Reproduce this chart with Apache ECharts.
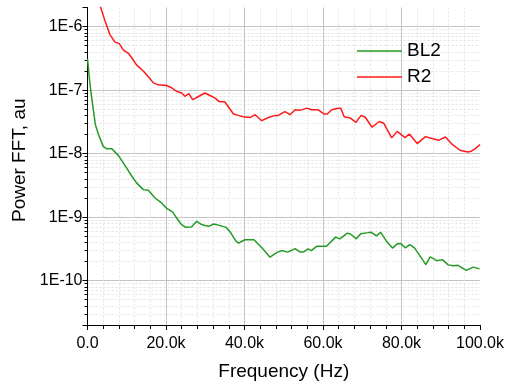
<!DOCTYPE html>
<html>
<head>
<meta charset="utf-8">
<script src="https://cdn.jsdelivr.net/npm/echarts@6/dist/echarts.min.js"></script>
<style>
html, body { margin: 0; padding: 0; background: #fff; }
#chart { width: 506px; height: 386px; }
</style>
</head>
<body>
<div id="chart"></div>
<script>
// Power spectra of the two channels; frequency in kHz, power in arbitrary units
const seriesNames = ['BL2', 'R2'];

const freqBL2 = [0, 0.6, 1.0, 2.0, 2.8, 4.0, 4.9, 6.2, 7.9, 9.7, 11.3, 12.5, 14.2, 15.5, 17.2, 18.7,
  20.0, 21.7, 22.7, 24.0, 25.0, 26.5, 27.8, 28.8, 29.9, 31.0, 32.2, 33.8, 35.3, 36.4, 37.8, 38.5,
  40.1, 42.4, 44.6, 46.5, 48.2, 49.4, 51.0, 52.9, 54.1, 55.0, 56.2, 57.0, 58.4, 60.9, 63.2, 64.3,
  66.2, 67.0, 68.5, 69.6, 71.5, 72.2, 73.6, 74.7, 76.2, 77.7, 79.0, 79.9, 81.0, 82.1, 83.3, 84.7,
  86.2, 87.3, 89.0, 90.4, 91.9, 93.2, 94.4, 96.5, 98.3, 99.9];
const powerBL2 = [3.1e-7, 1.3e-7, 8.2e-8, 2.86e-8, 2.0e-8, 1.30e-8, 1.19e-8, 1.19e-8, 9.3e-9, 6.3e-9,
  4.4e-9, 3.46e-9, 2.71e-9, 2.64e-9, 2.0e-9, 1.71e-9, 1.40e-9, 1.20e-9, 9.7e-10, 7.6e-10, 6.9e-10,
  7.0e-10, 8.6e-10, 7.8e-10, 7.4e-10, 7.2e-10, 7.8e-10, 7.35e-10, 6.9e-10, 5.8e-10, 4.2e-10, 3.9e-10,
  4.4e-10, 4.4e-10, 3.2e-10, 2.34e-10, 2.76e-10, 2.97e-10, 2.81e-10, 3.19e-10, 2.83e-10, 2.81e-10,
  3.17e-10, 2.97e-10, 3.47e-10, 3.47e-10, 4.84e-10, 4.55e-10, 5.6e-10, 5.43e-10, 4.55e-10, 5.46e-10,
  5.7e-10, 5.8e-10, 5.06e-10, 5.76e-10, 4.16e-10, 3.25e-10, 3.83e-10, 3.79e-10, 3.27e-10, 3.69e-10,
  3.27e-10, 2.45e-10, 1.79e-10, 2.36e-10, 2.06e-10, 2.14e-10, 1.77e-10, 1.72e-10, 1.74e-10, 1.45e-10,
  1.63e-10, 1.53e-10];

const freqR2 = [2.5, 3.4, 4.5, 5.7, 7.0, 8.1, 9.1, 10.4, 11.3, 12.5, 14.2, 15.5, 16.8, 18.0, 20.2,
  21.5, 22.8, 24.0, 24.8, 25.8, 26.8, 28.4, 29.9, 31.6, 32.5, 33.6, 35.0, 37.2, 38.4, 39.7, 41.4,
  42.7, 44.4, 46.1, 47.8, 48.6, 50.3, 51.6, 52.9, 54.1, 55.9, 57.1, 58.8, 60.3, 61.1, 62.2, 63.9,
  64.5, 65.4, 66.9, 68.4, 69.7, 70.8, 72.5, 74.3, 75.5, 77.5, 78.9, 80.9, 82.0, 84.0, 86.1, 88.0,
  89.4, 91.2, 92.7, 94.9, 96.9, 97.8, 98.9, 100.0];
const powerR2 = [2.9e-6, 1.97e-6, 1.21e-6, 7.5e-7, 5.7e-7, 5.4e-7, 4.3e-7, 3.8e-7, 3.2e-7, 2.5e-7,
  2.0e-7, 1.62e-7, 1.30e-7, 1.21e-7, 1.18e-7, 1.08e-7, 9.5e-8, 9.0e-8, 8.0e-8, 8.8e-8, 7.1e-8, 8.0e-8,
  9.0e-8, 8.0e-8, 7.5e-8, 6.6e-8, 6.5e-8, 4.2e-8, 4.0e-8, 3.8e-8, 3.7e-8, 4.1e-8, 3.3e-8, 3.7e-8,
  4.0e-8, 4.0e-8, 4.6e-8, 4.1e-8, 4.9e-8, 4.8e-8, 5.2e-8, 4.9e-8, 4.9e-8, 4.2e-8, 4.2e-8, 4.9e-8,
  5.2e-8, 5.2e-8, 3.8e-8, 3.65e-8, 3.1e-8, 4.0e-8, 3.7e-8, 2.6e-8, 3.2e-8, 3.0e-8, 1.77e-8, 2.24e-8,
  1.79e-8, 2.04e-8, 1.44e-8, 1.85e-8, 1.71e-8, 1.62e-8, 1.83e-8, 1.44e-8, 1.13e-8, 1.06e-8, 1.09e-8,
  1.21e-8, 1.39e-8];

const xRange = [0, 100];
const xStep = 20;
const yRange = [2e-11, 2e-6];

const FONT = '"Liberation Sans", Arial, sans-serif';
const colors = ['#259a25', '#ff1a1a'];

function pairs(xs, ys) { return xs.map((x, i) => [x, ys[i]]); }

function decadeLabel(v) {
  const e = Math.log10(v);
  const r = Math.round(e);
  return Math.abs(e - r) < 1e-6 ? '1E' + r : '';
}

const chart = echarts.init(document.getElementById('chart'), null, { renderer: 'canvas' });

chart.setOption({
  animation: false,
  backgroundColor: '#fff',
  color: colors,
  grid: { left: 87.5, right: 26, top: 7.5, bottom: 61, containLabel: false, outerBoundsMode: 'none' },
  legend: {
    orient: 'vertical',
    left: 357, top: 41.5, padding: 0,
    itemWidth: 45, itemHeight: 1.6, itemGap: 7,
    textStyle: { fontSize: 19, fontFamily: FONT, color: '#000' },
    data: seriesNames.map(n => ({ name: n, icon: 'rect' }))
  },
  xAxis: {
    type: 'value',
    min: xRange[0], max: xRange[1], interval: xStep,
    name: 'Frequency (Hz)', nameLocation: 'middle', nameGap: 37,
    nameTextStyle: { fontSize: 19, fontFamily: FONT, color: '#000' },
    axisLine: { show: true, lineStyle: { color: '#000', width: 1 } },
    axisTick: { show: true, inside: false, length: 5, lineStyle: { color: '#000' } },
    minorTick: { show: true, splitNumber: 5, length: 4, lineStyle: { color: '#000' } },
    axisLabel: {
      fontSize: 16, fontFamily: FONT, color: '#000', margin: 11,
      formatter: v => v === 0 ? '0.0' : v.toFixed(1) + 'k'
    },
    splitLine: { show: true, showMinLine: false, showMaxLine: false, lineStyle: { color: '#c4c4c4', width: 1 } },
    minorSplitLine: { show: true, lineStyle: { color: '#e2e2e2', width: 1, type: [2, 2] } }
  },
  yAxis: {
    type: 'log', logBase: 10,
    min: yRange[0], max: yRange[1],
    name: 'Power FFT, au', nameLocation: 'middle', nameGap: 58,
    nameTextStyle: { fontSize: 19, fontFamily: FONT, color: '#000', padding: [0, 0, 0, 12] },
    axisLine: { show: true, lineStyle: { color: '#000', width: 1 } },
    axisTick: { show: true, inside: false, length: 5, lineStyle: { color: '#000' } },
    minorTick: { show: true, splitNumber: 9, length: 3, lineStyle: { color: '#000' } },
    axisLabel: { fontSize: 16, fontFamily: FONT, color: '#000', margin: 5, formatter: decadeLabel },
    splitLine: { show: true, showMinLine: false, showMaxLine: false, lineStyle: { color: '#c4c4c4', width: 1 } },
    minorSplitLine: { show: true, lineStyle: { color: '#e2e2e2', width: 1, type: [2, 2] } }
  },
  series: [
    { name: seriesNames[0], type: 'line', data: pairs(freqBL2, powerBL2), symbol: 'none', showSymbol: false,
      lineStyle: { width: 1.5, color: colors[0] }, itemStyle: { color: colors[0] }, clip: true, z: 3 },
    { name: seriesNames[1], type: 'line', data: pairs(freqR2, powerR2), symbol: 'none', showSymbol: false,
      lineStyle: { width: 1.5, color: colors[1] }, itemStyle: { color: colors[1] }, clip: true, z: 3 }
  ]
});
</script>
</body>
</html>
